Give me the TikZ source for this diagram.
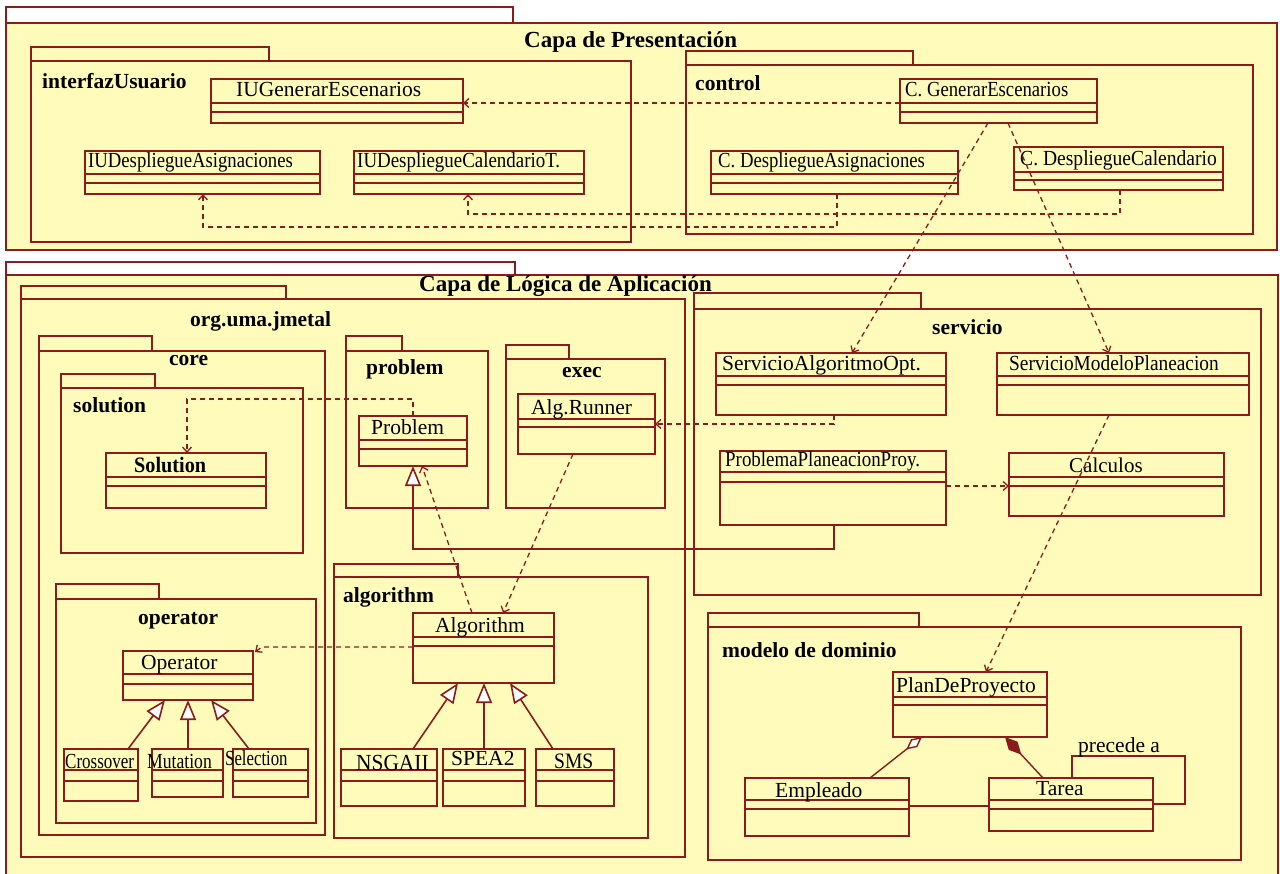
\documentclass[tikz,border=0pt]{standalone}
\usepackage{fontspec}
\usepackage{graphicx}
\setmainfont{Liberation Serif}
\usetikzlibrary{arrows.meta,calc}
\definecolor{pkgfill}{RGB}{255,251,186}
\definecolor{umlline}{RGB}{140,28,28}

% package: name, left x, tab top, tab right, body top, right x, bottom y
\newcommand\umlpkg[7]{%
  \draw[pkgline] (#2,#3) rectangle (#4,#5);
  \node[boxshape, anchor=north west, minimum width={(#6-#2)*1pt},
        minimum height={(#7-#5)*1pt}] (#1) at (#2,#5) {};
}
% class: name, x1, y1, x2, y2, first and second compartment lines
\newcommand\umlcls[7]{%
  \node[boxshape, anchor=north west, minimum width={(#4-#2)*1pt},
        minimum height={(#5-#3)*1pt}] (#1) at (#2,#3) {};
  \draw[pkgline] (#2,#6) -- (#4,#6) (#2,#7) -- (#4,#7);
}
% horizontally narrowed class name
\newcommand\narrow[2]{\scalebox{#1}[1]{#2}}

\begin{document}
\begin{tikzpicture}[x=1pt,y=-1pt,
  pkgline/.style={draw=umlline, line width=1.8pt},
  boxshape/.style={rectangle, draw=umlline, line width=1.8pt, fill=pkgfill,
                   inner sep=0pt, outer sep=0pt},
  pkglabel/.style={font=\fontsize{21.5}{23}\selectfont\bfseries, inner sep=0pt, anchor=base west},
  titlelabel/.style={font=\fontsize{23}{25}\selectfont\bfseries, inner sep=0pt, anchor=base west},
  clsname/.style={font=\fontsize{21.5}{23}\selectfont, inner sep=0pt, anchor=base west},
  dep/.style={draw=umlline, line width=1.3pt, dash pattern=on 5pt off 4pt,
              -{Straight Barb[length=5pt,width=9pt,line width=1.3pt]}},
  gen/.style={draw=umlline, line width=1.6pt,
              -{Triangle[open,length=20pt,width=16pt,fill=white,line width=1.6pt]}},
  assoc/.style={draw=umlline, line width=1.6pt},
  aggr/.style={draw=umlline, line width=1.4pt,
              -{Diamond[open,length=20pt,width=10pt,fill=white,line width=1.4pt]}},
  comp/.style={draw=umlline, line width=1.4pt,
              -{Diamond[length=24pt,width=12pt,fill=umlline]}},
]
\useasboundingbox (0,0) rectangle (1280,874);
\fill[white] (0,0) rectangle (1280,874);
\clip (0,0) rectangle (1280,874);

% ---------------- presentation layer ----------------
\umlpkg{presentacion}{6}{7}{513}{23}{1277}{250}
\node[titlelabel] (presentacion-t) at (524,48) {Capa de Presentación};

\umlpkg{interfaz}{31}{47}{269}{61}{631}{242}
\node[pkglabel] (interfaz-t) at (42,89) {interfazUsuario};

\umlpkg{control}{686}{51}{913}{65}{1253}{234}
\node[pkglabel] (control-t) at (695,91) {control};

\umlcls{iuge}{211}{79}{463}{123}{103}{112}
\node[clsname] (iuge-t) at (236,97) {IUGenerarEscenarios};
\umlcls{iuda}{85}{151}{320}{194}{174}{183}
\node[clsname] (iuda-t) at (88,168) {\narrow{0.87}{IUDespliegueAsignaciones}};
\umlcls{iudc}{354}{151}{584}{194}{174}{183}
\node[clsname] (iudc-t) at (357,168) {\narrow{0.88}{IUDespliegueCalendarioT.}};

\umlcls{cge}{900}{79}{1097}{123}{103}{112}
\node[clsname] (cge-t) at (905,97) {\narrow{0.87}{C. GenerarEscenarios}};
\umlcls{cda}{711}{151}{958}{194}{174}{183}
\node[clsname] (cda-t) at (718,168) {\narrow{0.87}{C. DespliegueAsignaciones}};
\umlcls{cdc}{1014}{147}{1223}{190}{172}{180}
\node[clsname] (cdc-t) at (1020,166) {\narrow{0.91}{C. DespliegueCalendario}};

% ---------------- application logic layer ----------------
\umlpkg{logica}{6}{262}{515}{275}{1278}{890}
\node[titlelabel] (logica-t) at (419,292) {Capa de Lógica de Aplicación};

\umlpkg{jmetal}{21}{286}{286}{299}{685}{857}
\node[pkglabel] (jmetal-t) at (190,327) {org.uma.jmetal};

\umlpkg{core}{39}{336}{152}{351}{325}{835}
\node[pkglabel] (core-t) at (169,366) {core};

\umlpkg{solution}{61}{374}{155}{388}{303}{553}
\node[pkglabel] (solution-t) at (73,413) {solution};
\umlcls{sol}{106}{453}{266}{508}{477}{486}
\node[clsname, font=\fontsize{22}{23}\selectfont\bfseries] (sol-t) at (134,472) {\narrow{0.92}{Solution}};

\umlpkg{problem}{346}{336}{402}{351}{488}{508}
\node[pkglabel] (problem-t) at (366,375) {problem};
\umlcls{prob}{359}{416}{467}{466}{440}{449}
\node[clsname] (prob-t) at (371,435) {Problem};

\umlpkg{exec}{506}{345}{569}{359}{665}{508}
\node[pkglabel] (exec-t) at (562,378) {exec};
\umlcls{runner}{518}{394}{655}{454}{419}{427}
\node[clsname] (runner-t) at (531,414) {Alg.Runner};

\umlpkg{operator}{56}{584}{159}{599}{316}{823}
\node[pkglabel] (operator-t) at (138,624) {operator};
\umlcls{op}{123}{651}{253}{700}{674}{684}
\node[clsname] (op-t) at (141,669) {Operator};
\umlcls{cross}{64}{749}{138}{801}{770}{781}
\node[clsname] (cross-t) at (65,768) {\narrow{0.79}{Crossover}};
\umlcls{mut}{152}{749}{223}{797}{770}{781}
\node[clsname] (mut-t) at (147,768) {\narrow{0.82}{Mutation}};
\umlcls{sel}{233}{749}{308}{797}{770}{781}
\node[clsname] (sel-t) at (225,765) {\narrow{0.78}{Selection}};

\umlpkg{algorithm}{334}{564}{458}{577}{648}{838}
\node[pkglabel] (algorithm-t) at (343,602) {algorithm};
\umlcls{alg}{413}{613}{554}{683}{637}{646}
\node[clsname] (alg-t) at (435,632) {Algorithm};
\umlcls{nsga}{341}{749}{437}{806}{770}{781}
\node[clsname, font=\fontsize{23}{24}\selectfont] (nsga-t) at (356,770) {\narrow{0.93}{NSGAII}};
\umlcls{spea}{443}{749}{525}{806}{770}{781}
\node[clsname] (spea-t) at (451,765) {SPEA2};
\umlcls{sms}{536}{749}{614}{806}{770}{781}
\node[clsname, font=\fontsize{22}{23}\selectfont] (sms-t) at (554,768) {\narrow{0.89}{SMS}};

\umlpkg{servicio}{694}{293}{921}{309}{1261}{595}
\node[pkglabel] (servicio-t) at (932,335) {servicio};
\umlcls{sao}{716}{353}{946}{415}{376}{385}
\node[clsname] (sao-t) at (722,371) {ServicioAlgoritmoOpt.};
\umlcls{smp}{997}{353}{1249}{415}{376}{385}
\node[clsname] (smp-t) at (1009,371) {\narrow{0.9}{ServicioModeloPlaneacion}};
\umlcls{ppp}{720}{451}{946}{525}{472}{482}
\node[clsname] (ppp-t) at (725,467) {\narrow{0.88}{ProblemaPlaneacionProy.}};
\umlcls{calc}{1009}{453}{1224}{516}{477}{486}
\node[clsname, font=\fontsize{21}{23}\selectfont] (calc-t) at (1069,472) {Calculos};

\umlpkg{dominio}{708}{613}{919}{627}{1241}{860}
\node[pkglabel] (dominio-t) at (722,657) {modelo de dominio};
\umlcls{plan}{893}{672}{1047}{737}{697}{705}
\node[clsname] (plan-t) at (896,692) {PlanDeProyecto};
\umlcls{emp}{745}{778}{909}{836}{800}{809}
\node[clsname] (emp-t) at (775,797) {Empleado};
\umlcls{tarea}{989}{778}{1153}{831}{800}{809}
\node[clsname] (tarea-t) at (1036,795) {Tarea};

% ---------------- dependencies ----------------
\draw[dep] ([yshift=-24pt]cge.north west) -- ([yshift=-24pt]iuge.north east);
\draw[dep] (837,0 |- cda.south) -- (837,227) -- (203,227) -- (203,0 |- iuda.south);
\draw[dep] (1120,0 |- cdc.south) -- (1120,214) -- (468,214) -- (468,0 |- iudc.south);
\draw[dep] (988,0 |- cge.south) -- (852,0 |- sao.north);
\draw[dep] (1008,0 |- cge.south) -- (1109,0 |- smp.north);
\draw[dep] (834,0 |- sao.south) -- (834,424) -- (runner.east |- 0,424);
\draw[dep] (ppp.east |- 0,486) -- (calc.west |- 0,486);
\draw[dep] (1109,0 |- smp.south) -- (986,0 |- plan.north);
\draw[dep] (413,0 |- prob.north) -- (413,399) -- (187,399) -- (187,0 |- sol.north);
\draw[dep] (472,0 |- alg.north) -- (422,0 |- prob.south);
\draw[dep] (573,0 |- runner.south) -- (503,0 |- alg.north);
\draw[dep] (alg.west |- 0,647) -- (262,647) -- ([xshift=2pt,yshift=-1pt]op.north east);

% ---------------- generalizations ----------------
\draw[gen] (834,0 |- ppp.south) -- (834,549) -- (413,549) -- (413,0 |- prob.south);
\draw[gen] (413,0 |- nsga.north) -- (458,0 |- alg.south);
\draw[gen] (484,0 |- spea.north) -- (484,0 |- alg.south);
\draw[gen] (553,0 |- sms.north) -- (510,0 |- alg.south);
\draw[gen] (128,0 |- cross.north) -- (165,0 |- op.south);
\draw[gen] (188,0 |- mut.north) -- (188,0 |- op.south);
\draw[gen] (249,0 |- sel.north) -- (211,0 |- op.south);

% ---------------- associations ----------------
\draw[aggr] (870,0 |- emp.north) -- (922,0 |- plan.south);
\draw[comp] (1043,0 |- tarea.north) -- (1005,0 |- plan.south);
\draw[assoc] (emp.east |- 0,806) -- (tarea.west |- 0,806);
\draw[assoc] (1072,0 |- tarea.north) -- (1072,756) -- (1185,756) -- (1185,804) -- (tarea.east |- 0,804);
\node[clsname] (precede) at (1078,752) {precede a};
\end{tikzpicture}
\end{document}
